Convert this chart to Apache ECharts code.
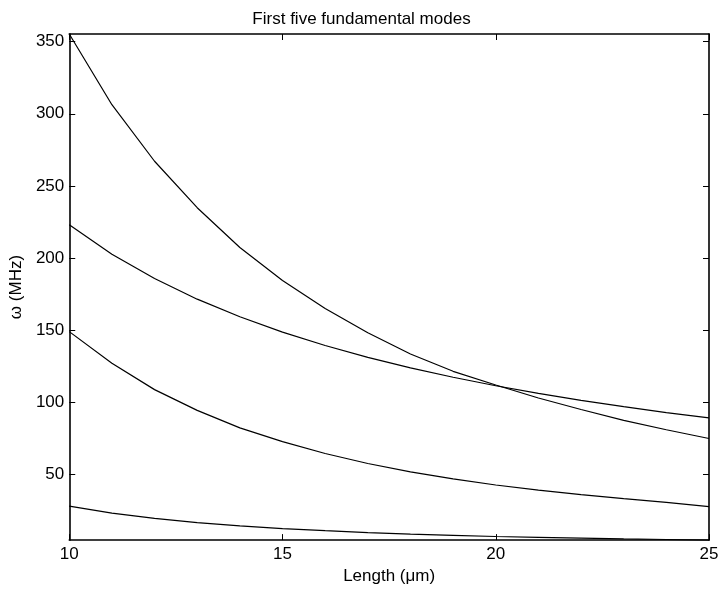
<!DOCTYPE html>
<html>
<head>
<meta charset="utf-8">
<script src="https://cdn.jsdelivr.net/npm/echarts@6/dist/echarts.min.js"></script>
<style>
  html, body { margin: 0; padding: 0; background: #fff; }
  #chart { width: 723px; height: 590px; }
</style>
</head>
<body>
<div id="chart"></div>
<script>
// Length in micrometres
var lengths = [10, 11, 12, 13, 14, 15, 16, 17, 18, 19, 20, 21, 22, 23, 24, 25];
// omega (MHz) for each mode
var modeA = [28.1, 23.2, 19.5, 16.6, 14.3, 12.5, 11.0, 9.7, 8.7, 7.8, 7.0, 6.4, 5.8, 5.3, 4.9, 4.5];
var modeB = [149.0, 127.1, 108.8, 94.4, 82.3, 72.8, 64.5, 57.6, 51.8, 46.9, 42.7, 39.2, 36.0, 33.2, 30.6, 27.7];
var modeC = [223.0, 202.7, 185.8, 171.5, 159.3, 148.7, 139.4, 131.2, 123.9, 117.4, 111.5, 106.2, 101.4, 97.0, 92.9, 89.2];
var modeD = [355.3, 306.3, 267.1, 234.9, 207.3, 184.5, 165.0, 148.2, 133.5, 121.5, 112.0, 103.0, 95.0, 87.5, 81.0, 74.9];
var yTicks = [50, 100, 150, 200, 250, 300, 350];

var chart = echarts.init(document.getElementById('chart'));
var font = 'Liberation Sans, Arial, Helvetica, sans-serif';

function pairs(ys) {
    return lengths.map(function (x, i) { return [x, ys[i]]; });
}
function line(name, ys) {
    return {
        name: name,
        type: 'line',
        data: pairs(ys),
        showSymbol: false,
        symbol: 'none',
        silent: true,
        lineStyle: { color: '#000', width: 1.2 }
    };
}

var axisLine = { show: true, onZero: false, lineStyle: { color: '#000', width: 1.6 } };
var tick = { show: true, inside: true, length: 6, lineStyle: { color: '#000', width: 1 } };

chart.setOption({
    animation: false,
    backgroundColor: '#fff',
    title: {
        text: 'First five fundamental modes',
        left: 'center',
        top: 6,
        textStyle: { fontFamily: font, fontSize: 17, fontWeight: 'normal', color: '#000' }
    },
    grid: { left: 66, right: 14, top: 34, bottom: 48 },
    xAxis: [{
        type: 'value',
        min: 10, max: 25, interval: 5,
        name: 'Length (\u03bcm)',
        nameLocation: 'middle',
        nameGap: 27,
        nameTextStyle: { fontFamily: font, fontSize: 17, color: '#000' },
        axisLine: axisLine,
        axisTick: tick,
        axisLabel: { fontFamily: font, fontSize: 17, color: '#000', margin: 6 },
        splitLine: { show: false }
    }, {
        type: 'value',
        position: 'top',
        min: 10, max: 25, interval: 5,
        axisLine: axisLine,
        axisTick: tick,
        axisLabel: { show: false },
        splitLine: { show: false }
    }],
    yAxis: [{
        type: 'value',
        min: 4.5, max: 355.3,
        name: '\u03c9 (MHz)',
        nameLocation: 'middle',
        nameGap: 34,
        nameTextStyle: { fontFamily: font, fontSize: 17, color: '#000' },
        axisLine: axisLine,
        axisTick: { show: true, inside: true, length: 6, lineStyle: { color: '#000', width: 1 }, customValues: yTicks },
        axisLabel: { fontFamily: font, fontSize: 17, color: '#000', margin: 5, customValues: yTicks },
        splitLine: { show: false }
    }, {
        type: 'value',
        position: 'right',
        min: 4.5, max: 355.3,
        axisLine: axisLine,
        axisTick: { show: true, inside: true, length: 6, lineStyle: { color: '#000', width: 1 }, customValues: yTicks },
        axisLabel: { show: false },
        splitLine: { show: false }
    }],
    series: [
        line('mode 1', modeA),
        line('mode 2', modeB),
        line('mode 3', modeC),
        line('mode 4', modeD)
    ]
});
</script>
</body>
</html>
